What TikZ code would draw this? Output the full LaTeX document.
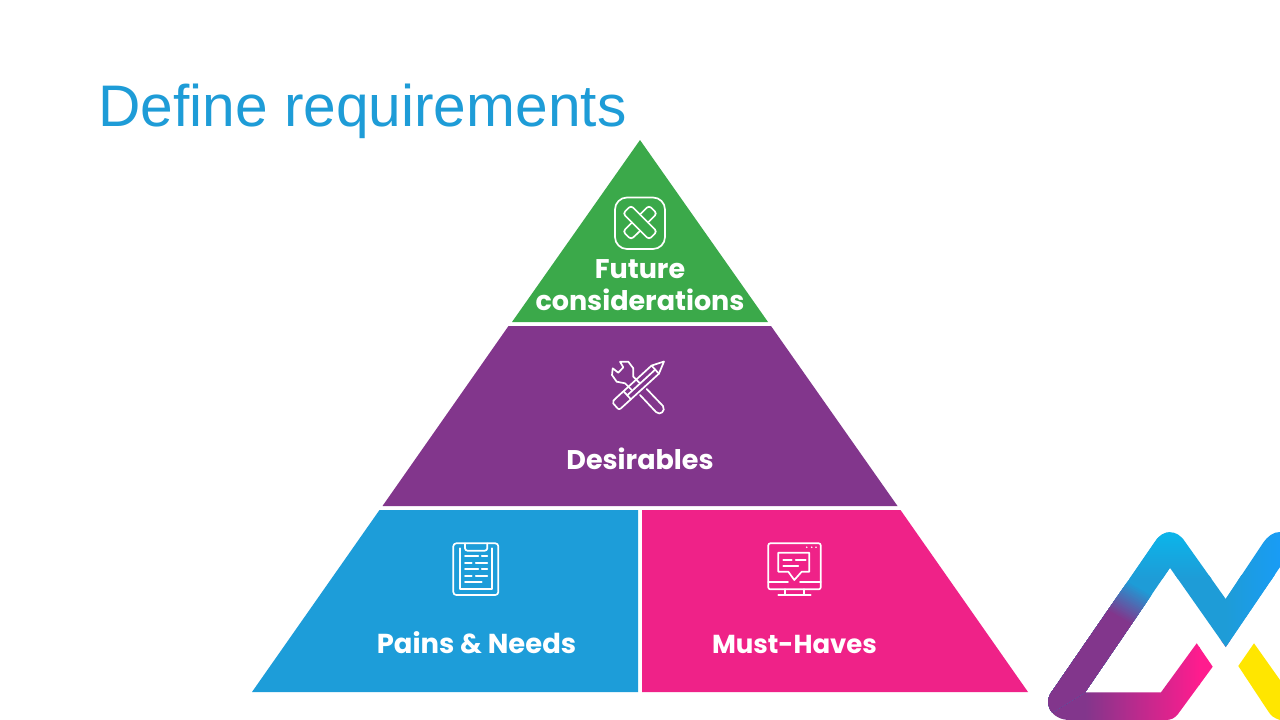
\documentclass[tikz,border=0pt]{standalone}
\usepackage{fontspec}
\setmainfont{Poppins}
\newfontfamily\titlefont{Liberation Sans}
\definecolor{pgreen}{HTML}{3BA94A}
\definecolor{ppurple}{HTML}{82368C}
\definecolor{pblue}{HTML}{1D9DD9}
\definecolor{ppink}{HTML}{EF2288}
\definecolor{lcyan}{HTML}{0BB5EA}
\definecolor{lblue}{HTML}{1E9CD7}
\definecolor{lright}{HTML}{189CF8}
\definecolor{lpink}{HTML}{FF1C8E}
\definecolor{lyellow}{HTML}{FFE600}
\tikzset{
  lbl/.style={text=white,font=\bfseries\fontsize{27}{32}\selectfont,align=center,inner sep=0pt},
  ico/.style={draw=white,line width=1.7pt,line join=round,line cap=round,fill=none}
}
\begin{document}
\begin{tikzpicture}[x=1pt,y=-1pt]
\useasboundingbox (0,0) rectangle (1280,720);
\fill[white] (0,0) rectangle (1280,720);
% pyramid
\fill[pgreen] (640,140) -- (768,322) -- (512,322) -- cycle;
\fill[ppurple] (508.5,326) -- (771,326) -- (897.5,506) -- (382.5,506) -- cycle;
\fill[pblue] (379.5,510) -- (638,510) -- (638,692) -- (252,692) -- cycle;
\fill[ppink] (642,510) -- (900.5,510) -- (1028,692) -- (642,692) -- cycle;
% texts
\node[text=lblue,font=\titlefont\fontsize{58.67}{60}\selectfont,anchor=base west,inner sep=0pt] (title) at (98,126) {Define requirements};
\node[lbl] (future) at (640,285.5) {Future\\considerations};
\node[lbl,anchor=base] (desirables) at (640,469) {Desirables};
\node[lbl,anchor=base,font=\bfseries\fontsize{27.4}{32}\selectfont] (pains) at (476.5,653) {Pains \& Needs};
\node[lbl,anchor=base,font=\bfseries\fontsize{26}{32}\selectfont] (must) at (794.5,653) {Must-Haves};
% icon: bandage
\draw[ico] (615,197.5) [rounded corners=12pt] rectangle (665,249);
\draw[ico,rounded corners=3pt] (631,205.5) -- (657,231.5) -- (649,239.5) -- (623,213.5) -- cycle;
\draw[ico,rounded corners=3pt] (640,214.5) -- (649,205.5) -- (657,213.5) -- (648,222.5);
\draw[ico,rounded corners=3pt] (640,231) -- (631,239.5) -- (623,231.5) -- (632,222.5);
% icon: tools
\draw[ico] (664,361.5) -- (651.5,365.6) -- (616.1,398) [rounded corners=2pt] -- (612,402) -- (619,410) -- (623.5,406) [sharp corners] -- (658.9,373.7) -- cycle;
\draw[ico] (651.5,365.6) -- (655.2,369.6) -- (658.9,373.7);
\draw[ico] (655.2,369.6) -- (627.2,395.3);
\draw[ico] (623.5,391.2) -- (630.9,399.3);
\draw[ico] (631.7,390) -- (625,383.3) -- (616.7,381.7) -- (612,375) -- (612.7,368.3) -- (618.3,372.7) -- (623.3,367.3) -- (620,361.7) -- (628.3,361.7) -- (633.3,368.3) -- (633.3,376.7) -- (640,383.3);
\draw[ico] (646.7,389) -- (663,406) .. controls (666,411) and (660,416) .. (656,412) -- (640,395);
% icon: clipboard
\draw[ico,rounded corners=3pt] (453.3,543.3) rectangle (498.3,595);
\draw[ico,rounded corners=2.5pt] (465,543.5) -- (465,550.7) -- (487.3,550.7) -- (487.3,543.5);
\draw[ico] (460,548.3) -- (460,589.3) -- (492.3,589.3) -- (492.3,548.3);
\foreach \y/\a/\b in {556/478.3/481.7,569.3/478.3/481.7}{
  \draw[ico] (465,\y) -- (\a,\y) (\b,\y) -- (487.3,\y);}
\foreach \y/\a/\b in {562.7/471.7/475.7,575.7/471.7/475.7}{
  \draw[ico] (465,\y) -- (\a,\y) (\b,\y) -- (487.3,\y);}
\draw[ico] (465,582.3) -- (481.7,582.3);
% icon: monitor
\draw[ico,rounded corners=2pt] (768.3,543.3) rectangle (820.7,589.3);
\draw[ico] (768.3,581.7) -- (788,581.7) (800,581.7) -- (820.7,581.7);
\draw[ico] (785,589.3) -- (785,595) (804,589.3) -- (804,595) (778.3,595) -- (810.7,595);
\draw[ico] (778.3,552.7) -- (809.3,552.7) -- (809.3,571.7) -- (801.7,571.7) -- (794.3,580) -- (788.3,571.7) -- (778.3,571.7) -- cycle;
\draw[ico] (783.3,560) -- (791.7,560) (795.7,560) -- (805.7,560) (783.3,566) -- (798.3,566);
\foreach \x in {806.7,811.7,816}{\fill[white] (\x,547.3) circle (0.9pt);}
% logo
\begin{scope}
\clip (1196.7,643.3) -- (1212.7,666.7) -- (1178,714) .. controls (1175,718) and (1171,720) .. (1166,720) -- (1070,720) .. controls (1051,720) and (1042,703) .. (1053,690) -- (1155,541.7) .. controls (1163,529) and (1177,529) .. (1185,541.7) -- (1225.7,599) -- (1263,543) .. controls (1268,536) and (1273,532) .. (1280,532) -- (1280,567) -- (1225.7,647) -- (1170,567.7) -- (1085,692.3) -- (1161,692.3) -- cycle;
% bottom band, purple to pink
\fill[ppurple] (1040,525) rectangle (1086,725);
\shade[left color=ppurple,right color=lpink] (1085,640) rectangle (1200,725);
\fill[lpink] (1199,640) rectangle (1285,725);
% left leg
\begin{scope}
\clip (1040,720) -- (1085,692.3) -- (1170,567.7) -- (1170,525) -- (1040,525) -- cycle;
\fill[lblue] (1040,525) rectangle (1175,725);
\begin{scope}[shift={(1132,603)},rotate=-30]
\foreach \i in {0,...,18}{
  \pgfmathsetmacro{\mixv}{100-\i*100/18}
  \fill[lblue!\mixv!ppurple] (-120,{-18+2*\i}) rectangle (120,160);
}
\end{scope}
\end{scope}
% right of apex
\fill[lblue] (1170,567.7) -- (1225.7,647) -- (1285,647) -- (1285,575) -- (1170,575) -- cycle;
\shade[left color=lblue,right color=lright] (1226,575) rectangle (1285,650);
% top
\shade[top color=lcyan,bottom color=lblue] (1040,532) rectangle (1226,578);
\shade[left color=lblue,right color=lright] (1226,525) rectangle (1285,580);
\end{scope}
\fill[lyellow] (1254,643.3) -- (1280,680) -- (1280,720) .. controls (1274,718) and (1271,716) .. (1268,711) -- (1238.3,666) -- cycle;
\end{tikzpicture}
\end{document}
